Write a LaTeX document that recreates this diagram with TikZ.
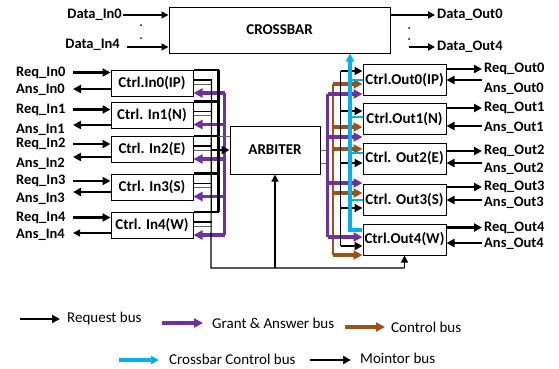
\documentclass[tikz,border=0pt]{standalone}
\usepackage{fontspec}
\setmainfont{Carlito}
\usetikzlibrary{arrows.meta,calc}
\definecolor{grantc}{RGB}{112,48,160}
\definecolor{ctrlc}{RGB}{160,80,20}
\definecolor{xbarc}{RGB}{0,176,240}
\begin{document}
\begin{tikzpicture}[x=1pt,y=-1pt,
  box/.style={draw, line width=1pt, fill=white, inner sep=0pt, font=\fontsize{15}{16}\bfseries\selectfont},
  inbox/.style={box, minimum width=82pt, minimum height=26pt},
  outbox/.style={box, minimum width=83pt, minimum height=31pt},
  lbl/.style={inner sep=1pt, font=\fontsize{14.5}{15}\bfseries\selectfont},
  rlbl/.style={lbl, inner sep=2pt, anchor=west},
  leg/.style={inner sep=1pt, anchor=west, font=\fontsize{15}{15}\selectfont},
  reqline/.style={line width=2.6pt},
  reqarrow/.style={line width=2.8pt, -{Triangle[length=8pt,width=8pt]}},
  dataarrow/.style={line width=1.8pt, -{Triangle[length=7pt,width=7pt]}},
  grantline/.style={grantc, line width=2.4pt},
  grantarrow/.style={grantc, line width=3.4pt, -{Triangle[length=9pt,width=9pt]}},
  ctrlline/.style={ctrlc, line width=2.2pt},
  ctrlarrow/.style={ctrlc, line width=3.2pt, -{Triangle[length=9pt,width=9pt]}},
  xline/.style={xbarc, line width=2.2pt},
  xarrow/.style={xbarc, line width=3.2pt, -{Triangle[length=8pt,width=8pt]}},
  monline/.style={line width=1.2pt},
  monarrow/.style={line width=1.2pt, -{Triangle[length=7pt,width=7pt]}},
  karrow/.style={line width=2pt, -{Triangle[length=8pt,width=8pt]}},
  grayl/.style={black!60, line width=1pt}
]
\useasboundingbox (0,0) rectangle (559,368);

% main blocks
\node[box, minimum width=221pt, minimum height=46pt] (xbar) at (279.5,30) {CROSSBAR};
\node[box, minimum width=90pt, minimum height=48pt] (arb) at (275,150) {ARBITER};

\node[inbox] (in0) at (152,83.5) {Ctrl.In0(IP)};
\node[inbox] (in1) at (152,115) {Ctrl. In1(N)};
\node[inbox] (in2) at (152,149.5) {Ctrl. In2(E)};
\node[inbox] (in3) at (152,187) {Ctrl. In3(S)};
\node[inbox] (in4) at (152,225.5) {Ctrl. In4(W)};

\node[outbox] (out0) at (404.5,80) {Ctrl.Out0(IP)};
\node[outbox] (out1) at (404.5,119) {Ctrl.Out1(N)};
\node[outbox] (out2) at (404.5,158.5) {Ctrl. Out2(E)};
\node[outbox] (out3) at (404.5,200) {Ctrl. Out3(S)};
\node[outbox] (out4) at (404.5,239.5) {Ctrl.Out4(W)};

% data lines
\node[lbl, anchor=east] (din0) at (123,15) {Data\_In0};
\node[lbl, anchor=east] (din4) at (121,45) {Data\_In4};
\draw[dataarrow] (din0.east) -- (din0.east -| xbar.west);
\draw[dataarrow] ($(din4.east)+(6,2)$) -- ($(din4.east -| xbar.west)+(0,2)$);
\fill (141,25) circle (1pt);
\fill (141,38) circle (1pt);
\node[rlbl] (dout0) at (435,15) {Data\_Out0};
\node[rlbl] (dout4) at (435,47) {Data\_Out4};
\draw[dataarrow] (xbar.east |- dout0) -- (dout0.west);
\draw[dataarrow] ($(dout0.west |- dout4)+(-26,0)$) -- (dout4.west);
\fill (409,28) circle (1pt);
\fill (409,39) circle (1pt);

% left labels
\node[lbl, anchor=west] (rqi0) at (15,72.5) {Req\_In0};
\node[lbl, anchor=west] (ani0) at (15,90) {Ans\_In0};
\node[lbl, anchor=west] (rqi1) at (15,109.5) {Req\_In1};
\node[lbl, anchor=west] (ani1) at (15,130) {Ans\_In1};
\node[lbl, anchor=west] (rqi2) at (15,144) {Req\_In2};
\node[lbl, anchor=west] (ani2) at (15,164) {Ans\_In2};
\node[lbl, anchor=west] (rqi3) at (15,181) {Req\_In3};
\node[lbl, anchor=west] (ani3) at (15,199) {Ans\_In3};
\node[lbl, anchor=west] (rqi4) at (15,217.5) {Req\_In4};
\node[lbl, anchor=west] (ani4) at (15,235) {Ans\_In4};
\coordinate (lx) at (73,0);

\draw[reqarrow] (lx |- rqi0) -- (rqi0 -| in0.west);
\draw[reqarrow] (lx |- rqi1) -- (rqi1 -| in1.west);
\draw[reqarrow] (lx |- rqi2) -- (rqi2 -| in2.west);
\draw[reqarrow] (lx |- rqi3) -- (rqi3 -| in3.west);
\draw[reqarrow] (lx |- rqi4) -- (rqi4 -| in4.west);
\draw[reqarrow] ($(in0.west |- ani0)+(0,-1)$) -- ($(lx |- ani0)+(0,-1)$);
\draw[reqarrow] ($(in1.west |- ani1)+(0,-5)$) -- ($(lx |- ani1)+(0,-5)$);
\draw[reqarrow] ($(in2.west |- ani2)+(0,-7)$) -- ($(lx |- ani2)+(0,-7)$);
\draw[reqarrow] ($(in3.west |- ani3)+(0,-7)$) -- ($(lx |- ani3)+(0,-7)$);
\draw[monarrow] ($(in4.west |- ani4)+(0,-2)$) -- ($(lx |- ani4)+(0,-2)$);

% right labels
\node[rlbl] (rqo0) at (482,69) {Req\_Out0};
\node[rlbl] (ano0) at (482,89) {Ans\_Out0};
\node[rlbl] (rqo1) at (482,108) {Req\_Out1};
\node[rlbl] (ano1) at (482,128) {Ans\_Out1};
\node[rlbl] (rqo2) at (482,151) {Req\_Out2};
\node[rlbl] (ano2) at (482,169) {Ans\_Out2};
\node[rlbl] (rqo3) at (482,187) {Req\_Out3};
\node[rlbl] (ano3) at (482,203) {Ans\_Out3};
\node[rlbl] (rqo4) at (482,227.5) {Req\_Out4};
\node[rlbl] (ano4) at (482,244) {Ans\_Out4};

\draw[reqarrow] (out0.east |- rqo0) -- (rqo0.west);
\draw[reqarrow] (out1.east |- rqo1) -- (rqo1.west);
\draw[reqarrow] (out2.east |- rqo2) -- (rqo2.west);
\draw[reqarrow] (out3.east |- rqo3) -- (rqo3.west);
\draw[reqarrow] (out4.east |- rqo4) -- (rqo4.west);
\draw[reqarrow] ($(ano0.west)+(0,-9)$) -- ($(out0.east |- ano0)+(0,-9)$);
\draw[reqarrow] ($(ano1.west)+(0,-2)$) -- ($(out1.east |- ano1)+(0,-2)$);
\draw[reqarrow] ($(ano2.west)+(0,-6)$) -- ($(out2.east |- ano2)+(0,-6)$);
\draw[reqarrow] ($(ano3.west)+(0,-3)$) -- ($(out3.east |- ano3)+(0,-3)$);
\draw[reqarrow] ($(ano4.west)+(0,-1)$) -- ($(out4.east |- ano4)+(0,-1)$);

% left bus
\coordinate (lbx) at (218.5,0);
\coordinate (mb) at (211,268);
\foreach \n in {in0,in1,in2,in3,in4}{
  \draw[reqline] (\n.north east) -- (\n.north east -| lbx);
  \draw[monline] ($(\n.north east)+(0,10)$) -- ++(18,0);
  \draw[grayl] ($(\n.north east)+(0,14)$) -- ++(18,0);
  \draw[grantarrow] ($(\n.south east)+(31,-4)$) -- ($(\n.south east)+(0,-4)$);
}
\draw[reqline] (in0.north east -| lbx) -- (in4.north east -| lbx);
\draw[grantline] ($(in0.south east)+(31,-4)$) -- ($(in4.south east)+(31,-4)$);
\draw[grayl] (in2.north east -| lbx) -- (in2.north east -| arb.west);
\draw[reqarrow] (mb |- arb.west) -- (arb.west);

% monitor bus
\draw[monline] ($(in0.north east)+(18,10)$) -- (mb) -- (mb -| out4.south);
\draw[monarrow] (mb -| arb.south) -- (arb.south);
\draw[monarrow] (mb -| out4.south) -- (out4.south);

% right bus
\coordinate (gx) at (327.5,0);
\coordinate (cbx) at (333,0);
\coordinate (kx) at (340.5,0);
\coordinate (bx) at (350,0);

\draw[grayl] (arb.east) -- (arb.east -| gx);
\draw[grayl] ($(arb.east)+(0,13)$) -- ($(arb.east -| gx)+(0,13)$);

% brown
\draw[ctrlline] ($(out0.west -| cbx)+(0,4)$) -- ($(out4.west -| cbx)+(0,15.5)$);
\draw[ctrlarrow] ($(out0.west -| cbx)+(0,4)$) -- ($(out0.west)+(0,4)$);
\draw[ctrlarrow] ($(out1.west -| cbx)+(0,8)$) -- ($(out1.west)+(0,8)$);
\draw[ctrlarrow] ($(out2.west -| cbx)+(0,-9.5)$) -- ($(out2.west)+(0,-9.5)$);
\draw[ctrlarrow] ($(out3.west -| cbx)+(0,-7)$) -- ($(out3.west)+(0,-7)$);
\draw[ctrlarrow] ($(out4.west -| cbx)+(0,15.5)$) -- ($(out4.west)+(0,15.5)$);

% purple
\draw[grantline] ($(out0.west -| gx)+(0,14)$) -- ($(out4.west -| gx)+(0,-2.5)$);
\draw[grantarrow] ($(out0.west -| gx)+(0,14)$) -- ($(out0.west)+(0,14)$);
\draw[grantarrow] ($(out1.west -| gx)+(0,18)$) -- ($(out1.west)+(0,18)$);
\draw[grantarrow] ($(out3.west -| gx)+(0,-17)$) -- ($(out3.west)+(0,-17)$);
\draw[grantarrow] ($(out4.west -| gx)+(0,-2.5)$) -- ($(out4.west)+(0,-2.5)$);

% black request to outputs
\draw[monline] ($(out0.west -| kx)+(0,-9)$) -- ($(out4.west -| kx)+(0,6.5)$);
\draw[karrow] ($(out0.west -| kx)+(0,-9)$) -- ($(out0.west)+(0,-9)$);
\draw[karrow] ($(out1.west -| kx)+(0,-8)$) -- ($(out1.west)+(0,-8)$);
\draw[karrow] ($(out2.west -| kx)+(0,4.5)$) -- ($(out2.west)+(0,4.5)$);
\draw[karrow] ($(out3.west -| kx)+(0,8)$) -- ($(out3.west)+(0,8)$);
\draw[karrow] ($(out4.west -| kx)+(0,6.5)$) -- ($(out4.west)+(0,6.5)$);

% cyan crossbar control
\draw[xline] ($(out0.west -| bx)$) -- (out0.west);
\draw[xline] ($(out1.west -| bx)+(0,-2)$) -- ($(out1.west)+(0,-2)$);
\draw[xline] ($(out2.west -| bx)+(0,-5.5)$) -- ($(out2.west)+(0,-5.5)$);
\draw[xline] ($(out3.west -| bx)$) -- (out3.west);
\draw[xarrow] ($(out4.west)+(-1,-9.5)$) -| (bx |- xbar.south);

% legend
\node[leg] (lg1) at (66,318) {Request bus};
\draw[reqarrow] ($(lg1.west)+(-46,1)$) -- ($(lg1.west)+(-6,1)$);
\node[leg] (lg2) at (211,323) {Grant \& Answer bus};
\draw[grantarrow] ($(lg2.west)+(-49,0)$) -- ($(lg2.west)+(-8,0)$);
\node[leg] (lg3) at (390,327) {Control bus};
\draw[ctrlarrow] ($(lg3.west)+(-45,0)$) -- ($(lg3.west)+(-5,0)$);
\node[leg] (lg4) at (168,359) {Crossbar Control bus};
\draw[xarrow] ($(lg4.west)+(-49,1)$) -- ($(lg4.west)+(-9,1)$);
\node[leg] (lg5) at (359,358) {Mointor bus};
\draw[karrow] ($(lg5.west)+(-49,2)$) -- ($(lg5.west)+(-8,2)$);
\end{tikzpicture}
\end{document}
